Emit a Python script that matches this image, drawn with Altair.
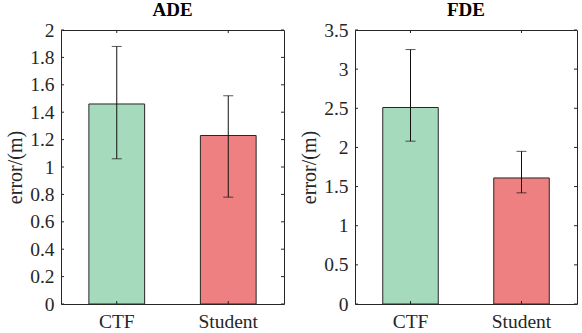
import altair as alt
import pandas as pd

# Methods compared in both panels
methods = ["CTF", "Student"]
bar_colors = ["#a6dabc", "#ef8081"]

# ADE: mean error and error-bar bounds (m)
ade_mean = [1.46, 1.23]
ade_low = [1.06, 0.78]
ade_high = [1.88, 1.52]
ade_ticks = [0, 0.2, 0.4, 0.6, 0.8, 1.0, 1.2, 1.4, 1.6, 1.8, 2.0]

# FDE: mean error and error-bar bounds (m)
fde_mean = [2.51, 1.61]
fde_low = [2.08, 1.42]
fde_high = [3.25, 1.95]
fde_ticks = [0, 0.5, 1.0, 1.5, 2.0, 2.5, 3.0, 3.5]

FONT = "Liberation Serif"
INK = "#262626"


def panel(title, means, lows, highs, ticks, ymax, width, height):
    df = pd.DataFrame({"method": methods, "mean": means, "low": lows, "high": highs})
    tick_df = pd.DataFrame({"t": ticks})
    x_scale = alt.Scale(domain=methods, paddingInner=0.5, paddingOuter=0.25)
    y_scale = alt.Scale(domain=[0, ymax], nice=False, zero=True)
    x_axis = alt.Axis(title=None, labelAngle=0, ticks=False, domain=False,
                      labelFont=FONT, labelFontSize=19.5, labelColor=INK,
                      labelPadding=8, labelOverlap=False)
    y_axis = alt.Axis(title="error/(m)", values=ticks, format=".1~f",
                      ticks=False, domain=False, grid=False,
                      labelOverlap=False, labelFlush=False,
                      labelFont=FONT, labelFontSize=19.5, labelColor=INK,
                      labelPadding=7, titleFont=FONT, titleFontSize=20,
                      titleFontWeight="normal", titleColor=INK,
                      titlePadding=4)

    def X():
        return alt.X("method:N", scale=x_scale, sort=methods, axis=x_axis)

    def Y(field):
        return alt.Y(field, scale=y_scale, axis=y_axis)

    bars = alt.Chart(df).mark_bar(stroke=INK, strokeWidth=1).encode(
        x=X(), y=Y("mean:Q"),
        color=alt.Color("method:N", scale=alt.Scale(domain=methods, range=bar_colors),
                        legend=None),
    )
    whisk = alt.Chart(df).mark_rule(color="#111111", strokeWidth=1).encode(
        x=X(), y=Y("low:Q"), y2="high:Q",
    )
    cap_lo = alt.Chart(df).mark_tick(color="#111111", thickness=1, size=10).encode(
        x=X(), y=Y("low:Q"),
    )
    cap_hi = alt.Chart(df).mark_tick(color="#111111", thickness=1, size=10).encode(
        x=X(), y=Y("high:Q"),
    )
    # inward ticks on all four sides of the box
    yt_left = alt.Chart(tick_df).mark_rule(color=INK).encode(
        y=Y("t:Q"), x=alt.value(0), x2=alt.value(3))
    yt_right = alt.Chart(tick_df).mark_rule(color=INK).encode(
        y=Y("t:Q"), x=alt.value(width - 3), x2=alt.value(width))
    xt_bottom = alt.Chart(df).mark_rule(color=INK).encode(
        x=X(), y=alt.value(height - 3), y2=alt.value(height))
    xt_top = alt.Chart(df).mark_rule(color=INK).encode(
        x=X(), y=alt.value(0), y2=alt.value(3))

    return alt.layer(bars, whisk, cap_lo, cap_hi, yt_left, yt_right, xt_bottom, xt_top).properties(
        width=width, height=height,
        title=alt.TitleParams(title, font=FONT, fontSize=19, fontWeight="bold",
                              color="#000000", offset=0),
    )


left = panel("ADE", ade_mean, ade_low, ade_high, ade_ticks, 2.0, 223, 274)
right = panel("FDE", fde_mean, fde_low, fde_high, fde_ticks, 3.5, 222, 274)

chart = alt.hconcat(left, right, spacing=14).properties(
    padding={"left": 5, "top": 0, "right": 0, "bottom": 0},
    background="white",
).configure_view(stroke=INK, strokeWidth=1)

chart.save("out.html", embed_options={"renderer": "svg", "actions": False})
